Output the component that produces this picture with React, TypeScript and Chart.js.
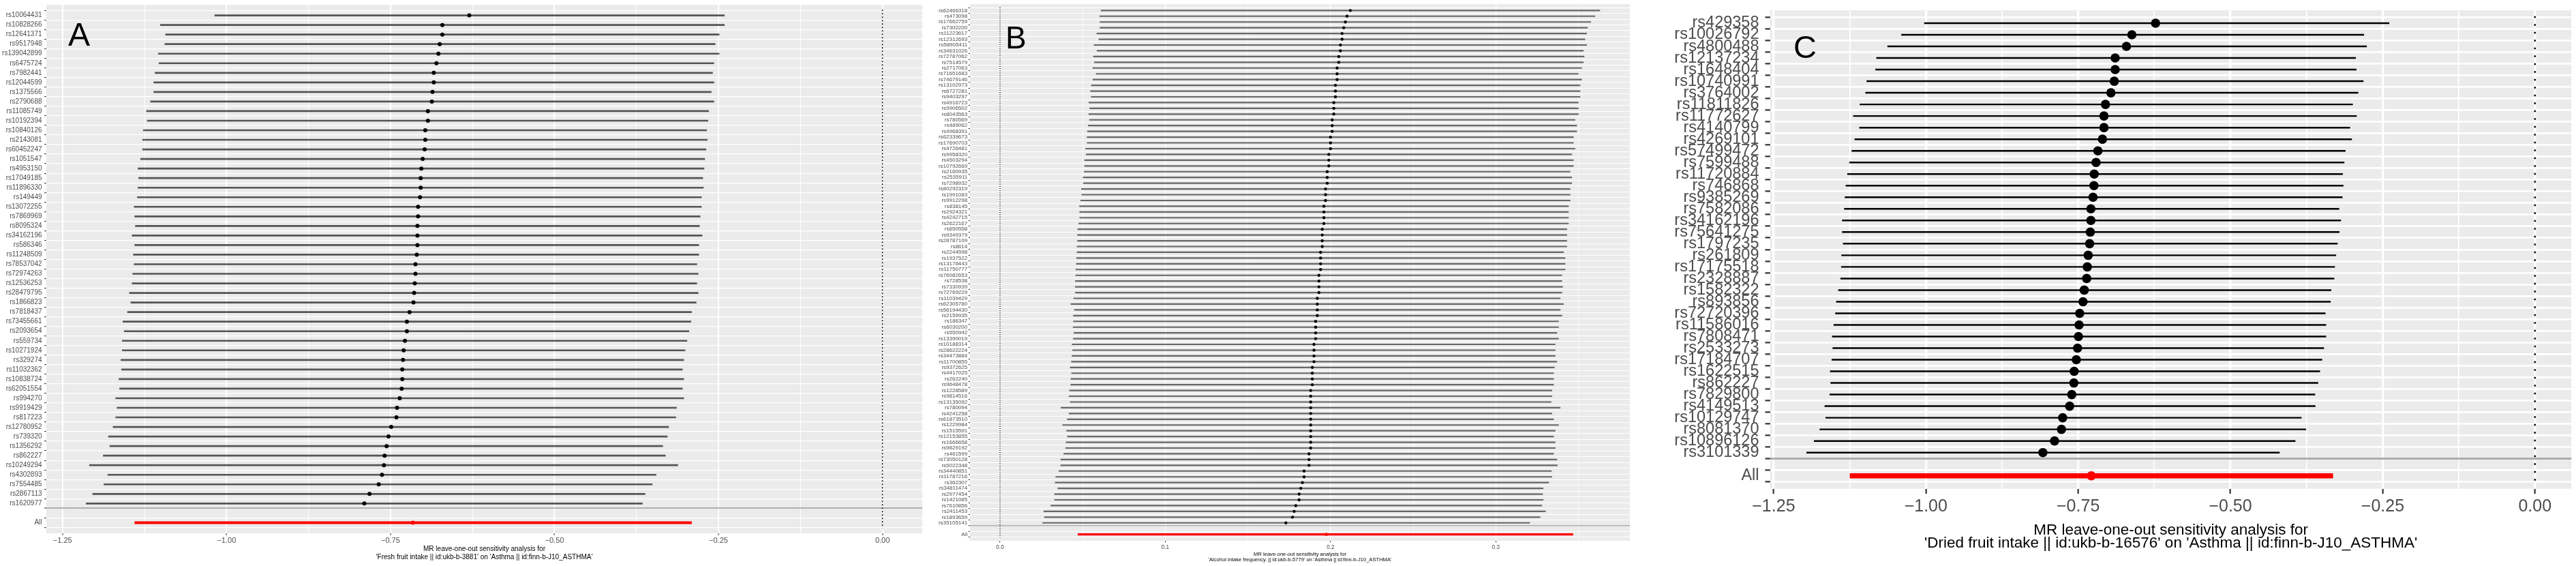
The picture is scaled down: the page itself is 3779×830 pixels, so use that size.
import React, { useEffect, useRef } from "react";
import { Chart, registerables } from "chart.js";

Chart.register(...registerables);

const FONT = "'Liberation Sans', Arial, Helvetica, sans-serif";

// ---------------- Panel A ----------------
const snpsA = ["rs10064431","rs10828266","rs12641371","rs9517948","rs139042899","rs6475724","rs7982441","rs12044599","rs1375566","rs2790688","rs11085749","rs10192394","rs10840126","rs2143081","rs60452247","rs1051547","rs4953150","rs17049185","rs11896330","rs149449","rs13072255","rs7869969","rs8095324","rs34162196","rs586346","rs11248509","rs78537042","rs72974263","rs12536253","rs28479795","rs1866823","rs7818437","rs73455661","rs2093654","rs559734","rs10271924","rs329274","rs11032362","rs10838724","rs62051554","rs994270","rs9919429","rs817223","rs12780952","rs739320","rs1356292","rs862227","rs10249294","rs4302893","rs7554485","rs2867113","rs1620977"];
const loA = [-1.018,-1.101,-1.093,-1.094,-1.104,-1.103,-1.109,-1.111,-1.111,-1.116,-1.122,-1.121,-1.127,-1.128,-1.128,-1.131,-1.135,-1.134,-1.135,-1.136,-1.141,-1.140,-1.139,-1.144,-1.140,-1.142,-1.141,-1.143,-1.144,-1.148,-1.146,-1.151,-1.158,-1.156,-1.159,-1.159,-1.161,-1.160,-1.164,-1.163,-1.169,-1.167,-1.169,-1.173,-1.180,-1.178,-1.188,-1.209,-1.181,-1.187,-1.204,-1.214];
const estA = [-0.630,-0.671,-0.671,-0.675,-0.677,-0.680,-0.684,-0.684,-0.686,-0.687,-0.693,-0.693,-0.697,-0.697,-0.698,-0.701,-0.703,-0.704,-0.704,-0.705,-0.708,-0.708,-0.709,-0.709,-0.709,-0.710,-0.712,-0.712,-0.713,-0.714,-0.715,-0.721,-0.725,-0.725,-0.728,-0.730,-0.731,-0.732,-0.732,-0.733,-0.736,-0.740,-0.741,-0.749,-0.753,-0.756,-0.759,-0.760,-0.763,-0.768,-0.782,-0.790];
const hiA = [-0.241,-0.241,-0.249,-0.255,-0.249,-0.257,-0.259,-0.257,-0.261,-0.257,-0.265,-0.266,-0.268,-0.267,-0.269,-0.271,-0.272,-0.274,-0.273,-0.276,-0.276,-0.278,-0.279,-0.275,-0.280,-0.280,-0.283,-0.281,-0.283,-0.281,-0.284,-0.291,-0.292,-0.295,-0.298,-0.301,-0.303,-0.305,-0.303,-0.305,-0.303,-0.314,-0.315,-0.326,-0.328,-0.335,-0.331,-0.312,-0.345,-0.351,-0.362,-0.366];
const allA = [-1.140, -0.716, -0.291];
const xTicksA = [-1.25, -1.0, -0.75, -0.5, -0.25, 0];
const xTickLabelsA = ["\u22121.25", "\u22121.00", "\u22120.75", "\u22120.50", "\u22120.25", "0.00"];
const titleA = ["MR leave-one-out sensitivity analysis for", "'Fresh fruit intake || id:ukb-b-3881' on 'Asthma || id:finn-b-J10_ASTHMA'"];

// ---------------- Panel B ----------------
const snpsB = ["rs62466318","rs473098","rs17662759","rs7302200","rs11223617","rs12312693","rs58905411","rs34631026","rs72787062","rs7514579","rs2717063","rs71651683","rs74679146","rs13102973","rs6727281","rs9403297","rs4916723","rs9906502","rs8043563","rs780569","rs489062","rs4968391","rs62339673","rs17690703","rs4726481","rs9958320","rs4503294","rs10792669","rs2160935","rs2535911","rs7298932","rs80292319","rs1991083","rs9912298","rs838145","rs2924321","rs4242715","rs2622167","rs650558","rs9349379","rs28787109","rs8614","rs2244598","rs1937522","rs13178443","rs11750777","rs76082653","rs728538","rs7330939","rs72769229","rs11039429","rs62305780","rs56194430","rs2159935","rs186347","rs6030200","rs550942","rs13390019","rs10188314","rs28622224","rs34473884","rs11700855","rs9372625","rs4417025","rs262240","rs9648478","rs1228589","rs9814516","rs13135092","rs780094","rs4241258","rs61873510","rs1229984","rs1515591","rs12153855","rs1666658","rs9829192","rs461599","rs73050128","rs5022348","rs34440851","rs11787216","rs362307","rs34811474","rs2977454","rs1421085","rs7610856","rs2411453","rs1893659","rs35105141"];
const loB = [0.0612,0.0603,0.0605,0.0605,0.0586,0.0598,0.0569,0.0587,0.0565,0.0571,
  0.0561,0.0582,0.0562,0.0553,0.0548,0.0552,0.0538,0.0543,0.0537,0.0541,
  0.0534,0.0529,0.0527,0.0527,0.0518,0.0521,0.0512,0.0512,0.0509,0.0503,
  0.0504,0.0493,0.0494,0.0488,0.0481,0.0482,0.0482,0.0476,0.0470,0.0469,
  0.0469,0.0466,0.0466,0.0463,0.0462,0.0459,0.0458,0.0456,0.0455,0.0456,
  0.0446,0.0429,0.0450,0.0444,0.0444,0.0442,0.0447,0.0444,0.0436,0.0439,
  0.0436,0.0432,0.0425,0.0433,0.0429,0.0428,0.0421,0.0418,0.0425,0.0369,
  0.0418,0.0407,0.0379,0.0403,0.0408,0.0400,0.0397,0.0386,0.0368,0.0367,
  0.0356,0.0337,0.0334,0.0350,0.0330,0.0330,0.0307,0.0265,0.0269,0.0258];
const estB = [0.212,0.210,0.209,0.208,0.207,0.207,0.206,0.206,0.205,0.205,
  0.204,0.204,0.204,0.203,0.203,0.203,0.202,0.202,0.202,0.201,
  0.201,0.201,0.200,0.200,0.200,0.199,0.199,0.199,0.198,0.198,
  0.198,0.197,0.197,0.197,0.196,0.196,0.196,0.196,0.195,0.195,
  0.195,0.195,0.194,0.194,0.194,0.194,0.193,0.193,0.193,0.193,
  0.192,0.192,0.192,0.192,0.191,0.191,0.191,0.191,0.190,0.190,
  0.190,0.190,0.189,0.189,0.189,0.189,0.188,0.188,0.188,0.188,
  0.188,0.188,0.188,0.188,0.188,0.188,0.188,0.187,0.187,0.187,
  0.184,0.184,0.183,0.182,0.181,0.181,0.179,0.178,0.177,0.173];
const hiB = [0.363,0.360,0.3575,0.3555,0.355,0.354,0.355,0.353,0.3535,0.353,
  0.352,0.350,0.352,0.351,0.351,0.351,0.350,0.350,0.350,0.348,
  0.349,0.349,0.347,0.347,0.348,0.346,0.347,0.347,0.345,0.346,
  0.346,0.345,0.345,0.345,0.344,0.344,0.344,0.344,0.343,0.343,
  0.343,0.343,0.341,0.342,0.342,0.342,0.340,0.340,0.3405,0.340,
  0.339,0.341,0.339,0.340,0.338,0.338,0.337,0.338,0.336,0.336,
  0.336,0.337,0.3355,0.335,0.335,0.335,0.334,0.334,0.3335,0.339,
  0.334,0.335,0.338,0.336,0.335,0.336,0.336,0.335,0.337,0.3373,
  0.3337,0.3340,0.3321,0.3287,0.3284,0.3287,0.3279,0.3301,0.3268,0.3205];
const allB = [0.0472, 0.1974, 0.3467];
const xTicksB = [0.0, 0.1, 0.2, 0.3];
const xTickLabelsB = ["0.0", "0.1", "0.2", "0.3"];
const titleB = ["MR leave-one-out sensitivity analysis for", "'Alcohol intake frequency. || id:ukb-b-5779' on 'Asthma || id:finn-b-J10_ASTHMA'"];

// ---------------- Panel C ----------------
const snpsC = ["rs429358","rs10026792","rs4800488","rs12137234","rs1648404","rs10740991","rs3764002","rs11811826","rs11772627","rs4140799","rs4269101","rs57499472","rs7599488","rs11720884","rs746868","rs9385269","rs7582086","rs34162196","rs75641275","rs1797235","rs261809","rs17175518","rs2328887","rs1582322","rs893856","rs72720396","rs11586016","rs7808471","rs2533273","rs17184707","rs1622515","rs862227","rs7829800","rs4149513","rs10129747","rs8081370","rs10896126","rs3101339"];
const loC = [-1.0025,-1.0401,-1.0628,-1.0811,-1.0826,-1.0971,-1.0990,-1.1083,-1.1191,-1.1090,-1.1168,-1.1216,-1.1254,-1.1287,-1.1313,-1.1328,-1.1339,-1.1373,-1.1373,-1.1358,-1.1384,-1.1388,-1.1399,-1.1436,-1.1470,-1.1485,-1.1511,-1.1537,-1.1529,-1.1544,-1.1570,-1.1563,-1.1578,-1.1660,-1.1645,-1.1742,-1.1835,-1.1957];
const estC = [-0.6229,-0.6618,-0.6707,-0.6892,-0.6892,-0.6907,-0.6962,-0.7051,-0.7076,-0.7076,-0.7101,-0.7176,-0.7206,-0.7236,-0.7241,-0.7256,-0.7291,-0.7291,-0.7301,-0.7311,-0.7335,-0.7350,-0.7360,-0.7400,-0.7420,-0.7475,-0.7485,-0.7495,-0.7510,-0.7530,-0.7565,-0.7570,-0.7605,-0.7640,-0.7754,-0.7774,-0.7888,-0.8079];
const hiC = [-0.2395,-0.2809,-0.2764,-0.2944,-0.2934,-0.2819,-0.2904,-0.2993,-0.2929,-0.3038,-0.3009,-0.3113,-0.3133,-0.3158,-0.3148,-0.3163,-0.3218,-0.3188,-0.3213,-0.3243,-0.3268,-0.3288,-0.3298,-0.3347,-0.3357,-0.3442,-0.3432,-0.3432,-0.3467,-0.3497,-0.3532,-0.3562,-0.3612,-0.3607,-0.3836,-0.3761,-0.3936,-0.4195];
const allC = [-1.1246, -0.7284, -0.3318];
const xTicksC = [-1.25, -1.0, -0.75, -0.5, -0.25, 0];
const xTickLabelsC = ["\u22121.25", "\u22121.00", "\u22120.75", "\u22120.50", "\u22120.25", "0.00"];
const titleC = ["MR leave-one-out sensitivity analysis for", "'Dried fruit intake || id:ukb-b-16576' on 'Asthma || id:finn-b-J10_ASTHMA'"];

type PanelData = {
  snps: string[]; lo: number[]; est: number[]; hi: number[]; all: number[];
  xTicks: number[]; xTickLabels: string[]; title: string[];
};

type PanelStyle = {
  left: number; width: number; height: number;
  yAxisW: number; padRight: number; padTop: number; xAxisH: number;
  yFont: number; xFont: number; titleFont: number; titleLH: number;
  tickLen: number; tickW: number; yPad: number; xPad: number; titlePadB: number;
  ciW: number; ciColor: string; allW: number; pointR: number; allPointR: number;
  rowGridW: number; majorGridW: number; minorGridW: number; sepW: number; sepColor: string;
  vlineW: number; vlineDash: number[];
  letter: string; letterLeft: number; letterTop: number; letterSize: number;
};

const dataA: PanelData = { snps: snpsA, lo: loA, est: estA, hi: hiA, all: allA, xTicks: xTicksA, xTickLabels: xTickLabelsA, title: titleA };
const dataB: PanelData = { snps: snpsB, lo: loB, est: estB, hi: hiB, all: allB, xTicks: xTicksB, xTickLabels: xTickLabelsB, title: titleB };
const dataC: PanelData = { snps: snpsC, lo: loC, est: estC, hi: hiC, all: allC, xTicks: xTicksC, xTickLabels: xTickLabelsC, title: titleC };

const styleA: PanelStyle = {
  left: 0, width: 1370, height: 830,
  yAxisW: 68, padRight: 17, padTop: 7, xAxisH: 48,
  yFont: 10, xFont: 11, titleFont: 10, titleLH: 1.14,
  tickLen: 3, tickW: 1, yPad: 3.5, xPad: 1.3, titlePadB: 7.3,
  ciW: 2, ciColor: "#555555", allW: 3.3, pointR: 3, allPointR: 3,
  rowGridW: 1.3, majorGridW: 2, minorGridW: 1, sepW: 2, sepColor: "#AFAFAF",
  vlineW: 1.5, vlineDash: [2, 3],
  letter: "A", letterLeft: 100, letterTop: 27, letterSize: 48,
};

const styleB: PanelStyle = {
  left: 1360, width: 1060, height: 830,
  yAxisW: 63, padRight: 29, padTop: 6, xAxisH: 37,
  yFont: 8, xFont: 8.2, titleFont: 7.6, titleLH: 1.1,
  tickLen: 2.3, tickW: 1, yPad: 1.5, xPad: 2.1, titlePadB: 4.8,
  ciW: 1.5, ciColor: "#666666", allW: 2.7, pointR: 2.2, allPointR: 2.4,
  rowGridW: 1, majorGridW: 1.3, minorGridW: 0.6, sepW: 1.5, sepColor: "#B0B0B0",
  vlineW: 1.2, vlineDash: [1.2, 2],
  letter: "B", letterLeft: 1475, letterTop: 32, letterSize: 46,
};

const styleC: PanelStyle = {
  left: 2440, width: 1339, height: 830,
  yAxisW: 157, padRight: 4, padTop: 15, xAxisH: 113.3,
  yFont: 23.5, xFont: 25, titleFont: 22.5, titleLH: 0.85,
  tickLen: 7.5, tickW: 2.2, yPad: 9, xPad: 3.8, titlePadB: 23.7,
  ciW: 1.8, ciColor: "#000000", allW: 7, pointR: 6.8, allPointR: 6.8,
  rowGridW: 2.7, majorGridW: 3.3, minorGridW: 1.8, sepW: 3, sepColor: "#ADADAD",
  vlineW: 2.5, vlineDash: [2.5, 9],
  letter: "C", letterLeft: 2631, letterTop: 45, letterSize: 47,
};

const bgPlugin = {
  id: "panelBg",
  beforeDraw(chart: any) {
    const { ctx, chartArea } = chart;
    if (!chartArea) return;
    ctx.save();
    ctx.fillStyle = "#EBEBEB";
    ctx.fillRect(chartArea.left, chartArea.top, chartArea.right - chartArea.left, chartArea.bottom - chartArea.top);
    ctx.restore();
  },
};

function buildConfig(d: PanelData, s: PanelStyle): any {
  const n = d.snps.length;
  const blank = n;
  const allIdx = n + 1;
  const labels = [...d.snps, "", "All"];
  const lows = [...d.lo, d.all[0]];
  const highs = [...d.hi, d.all[2]];
  const dmin = Math.min(0, ...lows);
  const dmax = Math.max(0, ...highs);
  const span = dmax - dmin;
  const xmin = dmin - 0.05 * span;
  const xmax = dmax + 0.05 * span;
  const ymin = -0.6;
  const ymax = allIdx + 0.6;
  const majorStep = d.xTicks[1] - d.xTicks[0];
  const minorStep = majorStep / 2;
  const tickVals: number[] = [];
  for (let k = Math.ceil(xmin / minorStep - 1e-9); k * minorStep <= xmax + 1e-9; k++) {
    tickVals.push(parseFloat((k * minorStep).toFixed(6)));
  }
  const majorIndex = (v: number) => d.xTicks.findIndex((m) => Math.abs(m - v) < 1e-6);
  const isMajor = (v: number) => majorIndex(v) >= 0;

  return {
    type: "bar",
    data: {
      datasets: [
        {
          type: "scatter",
          data: d.est.map((v, i) => ({ x: v, y: i })),
          pointRadius: s.pointR,
          pointHoverRadius: s.pointR,
          pointBackgroundColor: "#000000",
          pointBorderWidth: 0,
          borderWidth: 0,
        },
        {
          type: "scatter",
          data: [{ x: d.all[1], y: allIdx }],
          pointRadius: s.allPointR,
          pointHoverRadius: s.allPointR,
          pointBackgroundColor: "#FF0000",
          pointBorderWidth: 0,
          borderWidth: 0,
        },
        {
          type: "bar",
          data: d.lo.map((v, i) => ({ x: [v, d.hi[i]], y: i })),
          backgroundColor: s.ciColor,
          barThickness: s.ciW,
          grouped: false,
          borderWidth: 0,
        },
        {
          type: "bar",
          data: [{ x: [d.all[0], d.all[2]], y: allIdx }],
          backgroundColor: "#FF0000",
          barThickness: s.allW,
          grouped: false,
          borderWidth: 0,
        },
        {
          type: "line",
          data: [{ x: 0, y: ymin }, { x: 0, y: ymax }],
          borderColor: "#000000",
          borderWidth: s.vlineW,
          borderDash: s.vlineDash,
          pointRadius: 0,
          fill: false,
        },
      ],
    },
    options: {
      animation: false,
      responsive: false,
      maintainAspectRatio: false,
      devicePixelRatio: 1,
      indexAxis: "y",
      events: [],
      layout: { padding: { left: 0, right: s.padRight, top: s.padTop, bottom: 0 } },
      plugins: { legend: { display: false }, tooltip: { enabled: false }, title: { display: false } },
      scales: {
        x: {
          type: "linear",
          bounds: "data",
          min: xmin,
          max: xmax,
          afterBuildTicks: (sc: any) => {
            sc.ticks = tickVals.map((v) => ({ value: v }));
          },
          afterFit: (sc: any) => {
            sc.height = s.xAxisH;
            sc.paddingLeft = 0;
            sc.paddingRight = 0;
          },
          ticks: {
            autoSkip: false,
            maxRotation: 0,
            minRotation: 0,
            padding: s.xPad,
            color: "#4D4D4D",
            font: { family: FONT, size: s.xFont },
            callback: (v: number) => {
              const idx = majorIndex(v);
              return idx >= 0 ? d.xTickLabels[idx] : "";
            },
          },
          grid: {
            color: "#FFFFFF",
            lineWidth: (ctx: any) => (ctx.tick && isMajor(ctx.tick.value) ? s.majorGridW : s.minorGridW),
            drawTicks: true,
            tickLength: s.tickLen,
            tickWidth: s.tickW,
            tickColor: (ctx: any) => (ctx.tick && isMajor(ctx.tick.value) ? "#333333" : "rgba(0,0,0,0)"),
          },
          border: { display: false },
          title: {
            display: true,
            text: d.title,
            color: "#000000",
            font: { family: FONT, size: s.titleFont, lineHeight: s.titleLH },
            padding: { top: 0, bottom: s.titlePadB },
          },
        },
        y: {
          type: "linear",
          reverse: true,
          bounds: "data",
          min: ymin,
          max: ymax,
          afterBuildTicks: (sc: any) => {
            sc.ticks = labels.map((_, i) => ({ value: i }));
          },
          afterFit: (sc: any) => {
            sc.width = s.yAxisW;
            sc.paddingTop = 0;
            sc.paddingBottom = 0;
          },
          ticks: {
            autoSkip: false,
            padding: s.yPad,
            color: "#4D4D4D",
            font: { family: FONT, size: s.yFont },
            callback: (v: number) => labels[Math.round(v)] ?? "",
          },
          grid: {
            color: (ctx: any) => (ctx.tick && ctx.tick.value === blank ? s.sepColor : "#FFFFFF"),
            lineWidth: (ctx: any) => (ctx.tick && ctx.tick.value === blank ? s.sepW : s.rowGridW),
            drawTicks: true,
            tickLength: s.tickLen,
            tickWidth: s.tickW,
            tickColor: "#333333",
          },
          border: { display: false },
        },
      },
    },
    plugins: [bgPlugin],
  };
}

function Panel({ data, style }: { data: PanelData; style: PanelStyle }) {
  const ref = useRef<HTMLCanvasElement | null>(null);
  useEffect(() => {
    if (!ref.current) return;
    const chart = new Chart(ref.current, buildConfig(data, style));
    return () => chart.destroy();
  }, [data, style]);
  return (
    <>
      <canvas
        ref={ref}
        width={style.width}
        height={style.height}
        style={{ position: "absolute", left: style.left, top: 0, width: style.width, height: style.height }}
      />
      <div
        style={{
          position: "absolute",
          left: style.letterLeft,
          top: style.letterTop,
          fontFamily: FONT,
          fontSize: style.letterSize,
          lineHeight: 1,
          color: "#000000",
        }}
      >
        {style.letter}
      </div>
    </>
  );
}

export default function App() {
  return (
    <div style={{ position: "absolute", left: 0, top: 0, width: 3779, height: 830, background: "#FFFFFF", overflow: "hidden" }}>
      <Panel data={dataA} style={styleA} />
      <Panel data={dataB} style={styleB} />
      <Panel data={dataC} style={styleC} />
    </div>
  );
}
